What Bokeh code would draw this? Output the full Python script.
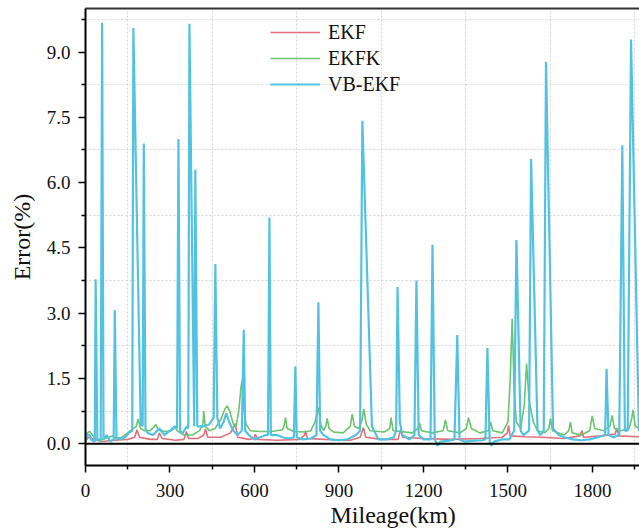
from bokeh.plotting import figure
from bokeh.models import (FixedTicker, PrintfTickFormatter, LinearAxis, Span, Legend,
                          LegendItem, Title, Range1d)
from bokeh.embed import file_html
from bokeh.resources import INLINE

# ---------------- data ----------------
ekf_x = [0, 10, 30, 60, 100, 150, 175, 183, 192, 230, 255, 262, 272, 320, 350, 358, 366,
         400, 420, 426, 434, 480, 515, 532, 540, 580, 598, 603, 610, 680, 760, 778, 781, 788,
         850, 940, 975, 987, 995, 1050, 1110, 1118, 1126, 1200, 1300, 1400, 1480, 1498, 1502,
         1508, 1560, 1620, 1700, 1755, 1763, 1768, 1830, 1880, 1887, 1893, 1967]
ekf_y = [0.05, 0.15, 0.1, 0.05, 0.08, 0.1, 0.15, 0.32, 0.15, 0.1, 0.1, 0.25, 0.12, 0.08, 0.1,
         0.28, 0.12, 0.12, 0.2, 0.34, 0.15, 0.15, 0.25, 0.46, 0.15, 0.1, 0.12, 0.22, 0.1, 0.08,
         0.1, 0.2, 0.3, 0.12, 0.1, 0.08, 0.15, 0.37, 0.15, 0.1, 0.1, 0.32, 0.15, 0.12, 0.1,
         0.12, 0.15, 0.25, 0.42, 0.18, 0.16, 0.15, 0.12, 0.18, 0.3, 0.15, 0.18, 0.22, 0.36,
         0.18, 0.16]

ekfk_x = [0, 5, 15, 25, 35, 60, 95, 110, 130, 160, 180, 187, 195, 210, 230, 245, 250, 258,
          280, 305, 318, 325, 350, 380, 405, 417, 420, 425, 440, 460, 480, 495, 503, 512, 525,
          535, 545, 552, 556, 562, 570, 585, 620, 660, 700, 706, 710, 716, 740, 780, 800, 815,
          822, 827, 835, 845, 853, 858, 865, 880, 915, 940, 947, 955, 970, 982, 988, 997, 1010,
          1060, 1080, 1085, 1092, 1120, 1160, 1180, 1186, 1193, 1230, 1270, 1278, 1286, 1330,
          1352, 1360, 1370, 1400, 1430, 1438, 1446, 1480, 1500, 1508, 1515, 1522, 1530, 1545,
          1558, 1566, 1575, 1590, 1605, 1630, 1645, 1651, 1658, 1700, 1716, 1722, 1728, 1760,
          1790, 1799, 1808, 1840, 1862, 1870, 1878, 1900, 1930, 1940, 1944, 1952, 1967]
ekfk_y = [0.1, 0.25, 0.28, 0.2, 0.1, 0.1, 0.18, 0.12, 0.15, 0.3, 0.4, 0.57, 0.35, 0.3, 0.3,
          0.4, 0.44, 0.33, 0.28, 0.3, 0.38, 0.3, 0.2, 0.2, 0.3, 0.45, 0.75, 0.4, 0.3, 0.35, 0.55,
          0.8, 0.87, 0.75, 0.45, 0.4, 0.8, 1.3, 1.45, 0.8, 0.45, 0.3, 0.28, 0.28, 0.32, 0.45,
          0.6, 0.35, 0.28, 0.27, 0.3, 0.5, 0.7, 0.83, 0.45, 0.3, 0.4, 0.58, 0.35, 0.27, 0.25,
          0.4, 0.68, 0.4, 0.35, 0.55, 0.8, 0.45, 0.3, 0.27, 0.35, 0.6, 0.3, 0.28, 0.25, 0.35,
          0.48, 0.3, 0.25, 0.3, 0.55, 0.3, 0.25, 0.35, 0.6, 0.35, 0.25, 0.3, 0.5, 0.3, 0.25,
          0.5, 1.5, 2.87, 1.2, 0.5, 0.35, 0.9, 1.84, 1.0, 0.5, 0.3, 0.25, 0.35, 0.58, 0.3, 0.2,
          0.3, 0.5, 0.25, 0.2, 0.3, 0.64, 0.35, 0.3, 0.4, 0.65, 0.35, 0.3, 0.35, 0.6, 0.78, 0.4,
          0.35]

vb_x = [0, 6, 14, 22, 33, 36, 42, 54, 59, 64, 75, 88, 100, 104, 110, 122, 140, 155, 166, 170,
        196, 203, 207, 213, 220, 240, 262, 280, 300, 318, 325, 330, 336, 343, 360, 365, 369,
        386, 390, 397, 420, 440, 455, 461, 468, 478, 490, 500, 510, 525, 540, 555, 562, 567,
        580, 600, 620, 640, 648, 653, 658, 680, 700, 720, 740, 745, 750, 770, 800, 820, 827,
        833, 845, 870, 900, 930, 960, 975, 983, 1017, 1040, 1070, 1095, 1103, 1108, 1116,
        1125, 1150, 1168, 1175, 1183, 1200, 1225, 1232, 1240, 1250, 1260, 1290, 1310, 1320,
        1328, 1345, 1380, 1410, 1420, 1427, 1435, 1441, 1450, 1480, 1505, 1522, 1530, 1545,
        1555, 1575, 1582, 1605, 1615, 1627, 1635, 1660, 1680, 1700, 1730, 1760, 1790, 1820,
        1845, 1850, 1857, 1875, 1895, 1906, 1915, 1925, 1937, 1965, 1967]
vb_y = [0.05, 0.22, 0.2, 0.08, 0.05, 3.78, 0.1, 0.05, 9.67, 0.1, 0.2, 0.05, 0.1, 3.07, 0.15,
        0.1, 0.15, 0.25, 0.3, 9.55, 0.45, 0.4, 6.9, 0.35, 0.25, 0.2, 0.35, 0.2, 0.3, 0.4, 0.35,
        7.0, 0.3, 0.23, 0.4, 0.35, 9.65, 0.4, 6.3, 0.4, 0.4, 0.45, 0.6, 4.13, 0.6, 0.35, 0.5,
        0.7, 0.5, 0.3, 0.2, 0.3, 2.62, 0.3, 0.2, 0.1, 0.15, 0.2, 0.2, 5.2, 0.2, 0.2, 0.15,
        0.12, 0.15, 1.78, 0.15, 0.1, 0.12, 0.2, 3.25, 0.3, 0.2, 0.1, 0.08, 0.1, 0.2, 0.3, 7.42,
        0.4, 0.1, 0.1, 0.15, 0.3, 3.6, 0.5, 0.2, 0.1, 0.2, 3.75, 0.2, 0.1, 0.1, 4.57, 0.1,
        -0.05, 0.05, 0.07, 0.1, 2.5, 0.1, 0.05, 0.07, 0.08, 0.1, 2.2, 0.05, -0.05, 0.05, 0.1,
        0.1, 0.3, 4.68, 0.3, 0.2, 0.3, 6.54, 0.3, 0.2, 0.3, 8.77, 0.35, 0.2, 0.15, 0.1, 0.08,
        0.1, 0.15, 0.2, 1.72, 0.2, 0.15, 0.2, 6.86, 0.3, 0.3, 9.29, 0.3, 0.3]

series_names = ["EKF", "EKFK", "VB-EKF"]
x_ticks = [0, 300, 600, 900, 1200, 1500, 1800]
x_minor = [150, 450, 750, 1050, 1350, 1650, 1950]
y_ticks = [0.0, 1.5, 3.0, 4.5, 6.0, 7.5, 9.0]
y_minor = [0.75, 2.25, 3.75, 5.25, 6.75, 8.25, 9.75]

FONT = "Liberation Serif"

p = figure(width=639, height=531, x_range=Range1d(0, 1967), y_range=Range1d(-0.5, 10.0),
           output_backend="svg", toolbar_location=None,
           min_border_left=85, min_border_right=0, min_border_top=8, min_border_bottom=66)
p.outline_line_color = None
p.background_fill_color = "white"

xax = p.below[0]
yax = p.left[0]
xt = FixedTicker(ticks=x_ticks, minor_ticks=x_minor)
yt = FixedTicker(ticks=y_ticks, minor_ticks=y_minor)
xax.ticker = xt
yax.ticker = yt
p.xgrid[0].ticker = xt
p.ygrid[0].ticker = yt
yax.formatter = PrintfTickFormatter(format="%.1f")

for ax in (xax, yax):
    ax.axis_line_color = "black"
    ax.axis_line_width = 2
    ax.major_tick_line_color = "black"
    ax.major_tick_line_width = 1.5
    ax.minor_tick_line_color = "black"
    ax.minor_tick_line_width = 1.5
    ax.major_tick_out = 7
    ax.major_tick_in = 0
    ax.minor_tick_out = 4
    ax.minor_tick_in = 0
    ax.major_label_text_font = FONT
    ax.major_label_text_font_size = "19px"
    ax.major_label_text_color = "#111111"
    ax.major_label_standoff = 8
xax.major_label_standoff = 11

yax.axis_label = "Error(%)"
yax.axis_label_text_font = FONT
yax.axis_label_text_font_size = "24px"
yax.axis_label_text_font_style = "normal"
yax.axis_label_text_color = "#111111"
yax.axis_label_standoff = 9

# top border (an empty axis, no ticks, no labels)
top = LinearAxis(ticker=FixedTicker(ticks=[], minor_ticks=[]),
                 major_label_text_font_size="0px",
                 major_tick_line_color=None, minor_tick_line_color=None,
                 major_tick_out=0, major_tick_in=0, minor_tick_out=0, minor_tick_in=0,
                 major_label_standoff=0,
                 axis_line_color="#333333", axis_line_width=2)
p.add_layout(top, "above")

for g in (p.xgrid[0], p.ygrid[0]):
    g.grid_line_color = None
    g.minor_grid_line_color = "#d4d4d4"
    g.minor_grid_line_dash = "2 2"
    g.minor_grid_line_width = 1

p.add_layout(Span(location=0, dimension="width", line_color="black", line_width=2))

r1 = p.line(ekf_x, ekf_y, line_color="#e0707c", line_width=1.6)
r2 = p.line(ekfk_x, ekfk_y, line_color="#6cc46c", line_width=1.6)
r3 = p.line(vb_x, vb_y, line_color="#52c2e2", line_width=2.2)

legend = Legend(items=[LegendItem(label=series_names[0], renderers=[r1]),
                       LegendItem(label=series_names[1], renderers=[r2]),
                       LegendItem(label=series_names[2], renderers=[r3])],
                location=(185, 369), border_line_color=None, background_fill_alpha=0,
                label_text_font=FONT, label_text_font_size="20px", label_text_color="#111111",
                glyph_width=50, glyph_height=24, label_height=24, spacing=2,
                padding=0, margin=0, label_standoff=8)
p.add_layout(legend)

x_title = Title(text="Mileage(km)", align="left", offset=245, text_font=FONT,
                text_font_size="24px", text_font_style="normal", text_color="#111111",
                standoff=0)
p.add_layout(x_title, "below")

open("out.html", "w").write(file_html(p, INLINE))
